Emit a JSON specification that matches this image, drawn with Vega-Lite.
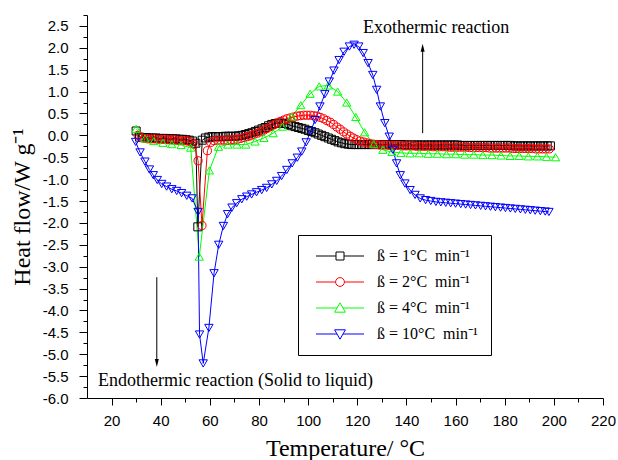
{
  "$schema": "https://vega.github.io/schema/vega-lite/v6.json",
  "width": 516,
  "height": 383,
  "autosize": {"type": "none"},
  "padding": {"left": 87, "top": 15, "right": 15, "bottom": 62},
  "background": "white",
  "config": {
    "view": {"stroke": null},
    "axis": {
      "domainColor": "black", "domainWidth": 1, "tickColor": "black", "tickWidth": 1,
      "labelFont": "Liberation Sans", "labelFontSize": 15, "labelColor": "black",
      "titleFont": "Liberation Serif", "titleFontSize": 24, "titleFontWeight": "normal", "titleColor": "black",
      "grid": false, "labelOverlap": false, "labelFlush": false, "labelBound": false
    },
    "legend": {"symbolOpacity": 1}
  },
  "resolve": {"scale": {"shape": "independent", "color": "independent"}},
  "datasets": {
    "curves": [
      {"s":"1","x":30.0,"y":0.10},{"s":"1","x":31.4,"y":-0.04},{"s":"1","x":32.7,"y":-0.05},{"s":"1","x":34.1,"y":-0.05},{"s":"1","x":35.4,"y":-0.06},{"s":"1","x":36.8,"y":-0.06},{"s":"1","x":38.1,"y":-0.06},{"s":"1","x":39.5,"y":-0.07},{"s":"1","x":40.8,"y":-0.07},{"s":"1","x":42.2,"y":-0.07},{"s":"1","x":43.5,"y":-0.08},{"s":"1","x":44.9,"y":-0.08},{"s":"1","x":46.2,"y":-0.08},{"s":"1","x":47.6,"y":-0.09},{"s":"1","x":48.9,"y":-0.09},{"s":"1","x":50.3,"y":-0.10},{"s":"1","x":51.6,"y":-0.11},{"s":"1","x":53.0,"y":-0.13},{"s":"1","x":54.3,"y":-0.18},{"s":"1","x":55.1,"y":-2.09},{"s":"1","x":56.9,"y":-0.11},{"s":"1","x":58.2,"y":-0.06},{"s":"1","x":59.6,"y":-0.04},{"s":"1","x":60.9,"y":-0.03},{"s":"1","x":62.3,"y":-0.03},{"s":"1","x":63.6,"y":-0.03},{"s":"1","x":65.0,"y":-0.03},{"s":"1","x":66.3,"y":-0.02},{"s":"1","x":67.7,"y":-0.02},{"s":"1","x":69.0,"y":-0.02},{"s":"1","x":70.4,"y":-0.02},{"s":"1","x":71.7,"y":-0.01},{"s":"1","x":73.1,"y":0.00},{"s":"1","x":74.4,"y":0.02},{"s":"1","x":75.8,"y":0.04},{"s":"1","x":77.1,"y":0.06},{"s":"1","x":78.5,"y":0.09},{"s":"1","x":79.8,"y":0.12},{"s":"1","x":81.2,"y":0.15},{"s":"1","x":82.5,"y":0.18},{"s":"1","x":83.9,"y":0.22},{"s":"1","x":85.2,"y":0.25},{"s":"1","x":86.6,"y":0.27},{"s":"1","x":87.9,"y":0.28},{"s":"1","x":89.3,"y":0.28},{"s":"1","x":90.6,"y":0.27},{"s":"1","x":92.0,"y":0.25},{"s":"1","x":93.3,"y":0.22},{"s":"1","x":94.7,"y":0.20},{"s":"1","x":96.0,"y":0.18},{"s":"1","x":97.4,"y":0.16},{"s":"1","x":98.7,"y":0.14},{"s":"1","x":100.1,"y":0.11},{"s":"1","x":101.4,"y":0.09},{"s":"1","x":102.8,"y":0.06},{"s":"1","x":104.1,"y":0.03},{"s":"1","x":105.5,"y":0.00},{"s":"1","x":106.8,"y":-0.03},{"s":"1","x":108.2,"y":-0.06},{"s":"1","x":109.5,"y":-0.09},{"s":"1","x":110.9,"y":-0.12},{"s":"1","x":112.2,"y":-0.15},{"s":"1","x":113.6,"y":-0.17},{"s":"1","x":114.9,"y":-0.19},{"s":"1","x":116.3,"y":-0.20},{"s":"1","x":117.6,"y":-0.21},{"s":"1","x":119.0,"y":-0.21},{"s":"1","x":120.3,"y":-0.21},{"s":"1","x":121.7,"y":-0.21},{"s":"1","x":123.0,"y":-0.21},{"s":"1","x":124.4,"y":-0.21},{"s":"1","x":125.7,"y":-0.21},{"s":"1","x":127.1,"y":-0.21},{"s":"1","x":128.4,"y":-0.21},{"s":"1","x":129.8,"y":-0.21},{"s":"1","x":131.1,"y":-0.21},{"s":"1","x":132.5,"y":-0.21},{"s":"1","x":133.8,"y":-0.21},{"s":"1","x":135.2,"y":-0.21},{"s":"1","x":136.5,"y":-0.21},{"s":"1","x":137.9,"y":-0.21},{"s":"1","x":139.2,"y":-0.22},{"s":"1","x":140.6,"y":-0.22},{"s":"1","x":141.9,"y":-0.22},{"s":"1","x":143.3,"y":-0.22},{"s":"1","x":144.6,"y":-0.22},{"s":"1","x":146.0,"y":-0.22},{"s":"1","x":147.3,"y":-0.22},{"s":"1","x":148.7,"y":-0.22},{"s":"1","x":150.0,"y":-0.22},{"s":"1","x":151.4,"y":-0.22},{"s":"1","x":152.7,"y":-0.22},{"s":"1","x":154.1,"y":-0.22},{"s":"1","x":155.4,"y":-0.22},{"s":"1","x":156.8,"y":-0.22},{"s":"1","x":158.1,"y":-0.22},{"s":"1","x":159.5,"y":-0.22},{"s":"1","x":160.8,"y":-0.22},{"s":"1","x":162.2,"y":-0.23},{"s":"1","x":163.5,"y":-0.23},{"s":"1","x":164.9,"y":-0.23},{"s":"1","x":166.2,"y":-0.23},{"s":"1","x":167.6,"y":-0.23},{"s":"1","x":168.9,"y":-0.23},{"s":"1","x":170.3,"y":-0.23},{"s":"1","x":171.6,"y":-0.23},{"s":"1","x":173.0,"y":-0.23},{"s":"1","x":174.3,"y":-0.23},{"s":"1","x":175.7,"y":-0.23},{"s":"1","x":177.0,"y":-0.23},{"s":"1","x":178.4,"y":-0.23},{"s":"1","x":179.7,"y":-0.23},{"s":"1","x":181.1,"y":-0.23},{"s":"1","x":182.4,"y":-0.23},{"s":"1","x":183.8,"y":-0.24},{"s":"1","x":185.1,"y":-0.24},{"s":"1","x":186.5,"y":-0.24},{"s":"1","x":187.8,"y":-0.24},{"s":"1","x":189.2,"y":-0.24},{"s":"1","x":190.5,"y":-0.24},{"s":"1","x":191.9,"y":-0.24},{"s":"1","x":193.2,"y":-0.24},{"s":"1","x":194.6,"y":-0.24},{"s":"1","x":195.9,"y":-0.24},{"s":"1","x":197.3,"y":-0.24},{"s":"1","x":198.6,"y":-0.24},
      {"s":"2","x":30.8,"y":0.00},{"s":"2","x":32.1,"y":-0.05},{"s":"2","x":33.5,"y":-0.07},{"s":"2","x":34.8,"y":-0.08},{"s":"2","x":36.2,"y":-0.08},{"s":"2","x":37.5,"y":-0.08},{"s":"2","x":38.9,"y":-0.09},{"s":"2","x":40.2,"y":-0.09},{"s":"2","x":41.6,"y":-0.09},{"s":"2","x":42.9,"y":-0.10},{"s":"2","x":44.3,"y":-0.10},{"s":"2","x":45.6,"y":-0.10},{"s":"2","x":47.0,"y":-0.11},{"s":"2","x":48.3,"y":-0.11},{"s":"2","x":49.7,"y":-0.12},{"s":"2","x":51.0,"y":-0.13},{"s":"2","x":52.4,"y":-0.15},{"s":"2","x":53.7,"y":-0.21},{"s":"2","x":55.2,"y":-0.58},{"s":"2","x":56.8,"y":-2.06},{"s":"2","x":59.0,"y":-0.35},{"s":"2","x":60.4,"y":-0.16},{"s":"2","x":61.7,"y":-0.12},{"s":"2","x":63.1,"y":-0.11},{"s":"2","x":64.4,"y":-0.11},{"s":"2","x":65.8,"y":-0.11},{"s":"2","x":67.1,"y":-0.11},{"s":"2","x":68.5,"y":-0.10},{"s":"2","x":69.8,"y":-0.10},{"s":"2","x":71.2,"y":-0.09},{"s":"2","x":72.5,"y":-0.07},{"s":"2","x":73.9,"y":-0.05},{"s":"2","x":75.2,"y":-0.03},{"s":"2","x":76.6,"y":-0.01},{"s":"2","x":77.9,"y":0.02},{"s":"2","x":79.3,"y":0.05},{"s":"2","x":80.6,"y":0.08},{"s":"2","x":82.0,"y":0.12},{"s":"2","x":83.3,"y":0.16},{"s":"2","x":84.7,"y":0.20},{"s":"2","x":86.0,"y":0.24},{"s":"2","x":87.4,"y":0.28},{"s":"2","x":88.7,"y":0.32},{"s":"2","x":90.1,"y":0.35},{"s":"2","x":91.4,"y":0.38},{"s":"2","x":92.8,"y":0.40},{"s":"2","x":94.1,"y":0.42},{"s":"2","x":95.5,"y":0.44},{"s":"2","x":96.8,"y":0.45},{"s":"2","x":98.2,"y":0.46},{"s":"2","x":99.5,"y":0.46},{"s":"2","x":100.9,"y":0.46},{"s":"2","x":102.2,"y":0.45},{"s":"2","x":103.6,"y":0.44},{"s":"2","x":104.9,"y":0.41},{"s":"2","x":106.3,"y":0.38},{"s":"2","x":107.6,"y":0.34},{"s":"2","x":109.0,"y":0.30},{"s":"2","x":110.3,"y":0.25},{"s":"2","x":111.7,"y":0.19},{"s":"2","x":113.0,"y":0.14},{"s":"2","x":114.4,"y":0.08},{"s":"2","x":115.7,"y":0.03},{"s":"2","x":117.1,"y":-0.02},{"s":"2","x":118.4,"y":-0.06},{"s":"2","x":119.8,"y":-0.10},{"s":"2","x":121.1,"y":-0.13},{"s":"2","x":122.5,"y":-0.15},{"s":"2","x":123.8,"y":-0.17},{"s":"2","x":125.2,"y":-0.19},{"s":"2","x":126.5,"y":-0.20},{"s":"2","x":127.9,"y":-0.21},{"s":"2","x":129.2,"y":-0.22},{"s":"2","x":130.6,"y":-0.22},{"s":"2","x":131.9,"y":-0.22},{"s":"2","x":133.3,"y":-0.23},{"s":"2","x":134.6,"y":-0.23},{"s":"2","x":136.0,"y":-0.23},{"s":"2","x":137.3,"y":-0.23},{"s":"2","x":138.7,"y":-0.24},{"s":"2","x":140.0,"y":-0.24},{"s":"2","x":141.4,"y":-0.24},{"s":"2","x":142.7,"y":-0.24},{"s":"2","x":144.1,"y":-0.25},{"s":"2","x":145.4,"y":-0.25},{"s":"2","x":146.8,"y":-0.25},{"s":"2","x":148.1,"y":-0.25},{"s":"2","x":149.5,"y":-0.25},{"s":"2","x":150.8,"y":-0.26},{"s":"2","x":152.2,"y":-0.26},{"s":"2","x":153.5,"y":-0.26},{"s":"2","x":154.9,"y":-0.26},{"s":"2","x":156.2,"y":-0.26},{"s":"2","x":157.6,"y":-0.27},{"s":"2","x":158.9,"y":-0.27},{"s":"2","x":160.3,"y":-0.27},{"s":"2","x":161.6,"y":-0.27},{"s":"2","x":163.0,"y":-0.27},{"s":"2","x":164.3,"y":-0.27},{"s":"2","x":165.7,"y":-0.28},{"s":"2","x":167.0,"y":-0.28},{"s":"2","x":168.4,"y":-0.28},{"s":"2","x":169.7,"y":-0.28},{"s":"2","x":171.1,"y":-0.28},{"s":"2","x":172.4,"y":-0.28},{"s":"2","x":173.8,"y":-0.29},{"s":"2","x":175.1,"y":-0.29},{"s":"2","x":176.5,"y":-0.29},{"s":"2","x":177.8,"y":-0.29},{"s":"2","x":179.2,"y":-0.29},{"s":"2","x":180.5,"y":-0.29},{"s":"2","x":181.9,"y":-0.29},{"s":"2","x":183.2,"y":-0.30},{"s":"2","x":184.6,"y":-0.30},{"s":"2","x":185.9,"y":-0.30},{"s":"2","x":187.3,"y":-0.30},{"s":"2","x":188.6,"y":-0.30},{"s":"2","x":190.0,"y":-0.30},{"s":"2","x":191.3,"y":-0.30},{"s":"2","x":192.7,"y":-0.31},{"s":"2","x":194.0,"y":-0.31},{"s":"2","x":195.4,"y":-0.31},{"s":"2","x":196.7,"y":-0.31},{"s":"2","x":198.1,"y":-0.31},
      {"s":"4","x":30.0,"y":0.15},{"s":"4","x":33.6,"y":-0.07},{"s":"4","x":37.2,"y":-0.13},{"s":"4","x":40.9,"y":-0.17},{"s":"4","x":44.5,"y":-0.20},{"s":"4","x":48.3,"y":-0.22},{"s":"4","x":52.2,"y":-0.28},{"s":"4","x":55.7,"y":-2.77},{"s":"4","x":59.8,"y":-0.80},{"s":"4","x":63.5,"y":-0.26},{"s":"4","x":67.3,"y":-0.21},{"s":"4","x":71.0,"y":-0.21},{"s":"4","x":74.6,"y":-0.21},{"s":"4","x":78.4,"y":-0.14},{"s":"4","x":82.0,"y":-0.06},{"s":"4","x":85.8,"y":0.05},{"s":"4","x":89.6,"y":0.20},{"s":"4","x":93.3,"y":0.43},{"s":"4","x":97.0,"y":0.69},{"s":"4","x":100.8,"y":0.95},{"s":"4","x":104.5,"y":1.12},{"s":"4","x":108.2,"y":1.14},{"s":"4","x":112.0,"y":1.00},{"s":"4","x":115.7,"y":0.75},{"s":"4","x":119.4,"y":0.42},{"s":"4","x":123.0,"y":0.07},{"s":"4","x":126.7,"y":-0.20},{"s":"4","x":130.4,"y":-0.33},{"s":"4","x":134.1,"y":-0.38},{"s":"4","x":137.8,"y":-0.40},{"s":"4","x":141.5,"y":-0.41},{"s":"4","x":145.2,"y":-0.41},{"s":"4","x":148.9,"y":-0.42},{"s":"4","x":152.6,"y":-0.42},{"s":"4","x":156.3,"y":-0.43},{"s":"4","x":160.0,"y":-0.43},{"s":"4","x":163.7,"y":-0.44},{"s":"4","x":167.4,"y":-0.44},{"s":"4","x":171.1,"y":-0.45},{"s":"4","x":174.8,"y":-0.45},{"s":"4","x":178.5,"y":-0.46},{"s":"4","x":182.2,"y":-0.47},{"s":"4","x":185.9,"y":-0.47},{"s":"4","x":189.6,"y":-0.48},{"s":"4","x":193.3,"y":-0.48},{"s":"4","x":197.0,"y":-0.49},{"s":"4","x":200.7,"y":-0.50},
      {"s":"10","x":29.8,"y":-0.15},{"s":"10","x":31.6,"y":-0.39},{"s":"10","x":33.6,"y":-0.60},{"s":"10","x":35.4,"y":-0.78},{"s":"10","x":37.0,"y":-0.91},{"s":"10","x":38.6,"y":-1.02},{"s":"10","x":40.4,"y":-1.11},{"s":"10","x":42.4,"y":-1.17},{"s":"10","x":44.5,"y":-1.23},{"s":"10","x":46.5,"y":-1.27},{"s":"10","x":48.5,"y":-1.32},{"s":"10","x":50.6,"y":-1.38},{"s":"10","x":52.8,"y":-1.44},{"s":"10","x":55.2,"y":-1.75},{"s":"10","x":55.8,"y":-4.55},{"s":"10","x":57.3,"y":-5.21},{"s":"10","x":59.6,"y":-4.40},{"s":"10","x":61.7,"y":-3.15},{"s":"10","x":63.6,"y":-2.50},{"s":"10","x":65.5,"y":-2.07},{"s":"10","x":67.2,"y":-1.80},{"s":"10","x":69.0,"y":-1.65},{"s":"10","x":70.9,"y":-1.55},{"s":"10","x":73.0,"y":-1.46},{"s":"10","x":75.0,"y":-1.40},{"s":"10","x":77.0,"y":-1.35},{"s":"10","x":79.0,"y":-1.30},{"s":"10","x":81.1,"y":-1.25},{"s":"10","x":83.1,"y":-1.20},{"s":"10","x":85.2,"y":-1.12},{"s":"10","x":87.2,"y":-1.04},{"s":"10","x":89.2,"y":-0.93},{"s":"10","x":91.3,"y":-0.79},{"s":"10","x":93.5,"y":-0.64},{"s":"10","x":95.6,"y":-0.51},{"s":"10","x":97.4,"y":-0.37},{"s":"10","x":99.2,"y":-0.16},{"s":"10","x":101.0,"y":0.09},{"s":"10","x":102.8,"y":0.35},{"s":"10","x":104.8,"y":0.66},{"s":"10","x":106.8,"y":0.94},{"s":"10","x":108.6,"y":1.23},{"s":"10","x":110.5,"y":1.48},{"s":"10","x":112.6,"y":1.72},{"s":"10","x":114.6,"y":1.91},{"s":"10","x":116.8,"y":2.03},{"s":"10","x":118.7,"y":2.07},{"s":"10","x":120.6,"y":2.03},{"s":"10","x":122.4,"y":1.88},{"s":"10","x":124.4,"y":1.65},{"s":"10","x":126.3,"y":1.38},{"s":"10","x":127.9,"y":1.04},{"s":"10","x":129.4,"y":0.66},{"s":"10","x":131.2,"y":0.28},{"s":"10","x":133.0,"y":-0.03},{"s":"10","x":134.5,"y":-0.33},{"s":"10","x":136.0,"y":-0.64},{"s":"10","x":137.5,"y":-0.91},{"s":"10","x":139.4,"y":-1.10},{"s":"10","x":141.5,"y":-1.25},{"s":"10","x":143.5,"y":-1.36},{"s":"10","x":145.6,"y":-1.44},{"s":"10","x":147.8,"y":-1.48},{"s":"10","x":149.9,"y":-1.50},{"s":"10","x":152.0,"y":-1.52},{"s":"10","x":154.0,"y":-1.53},{"s":"10","x":156.0,"y":-1.54},{"s":"10","x":158.0,"y":-1.55},{"s":"10","x":160.0,"y":-1.56},{"s":"10","x":162.1,"y":-1.57},{"s":"10","x":164.1,"y":-1.58},{"s":"10","x":166.1,"y":-1.59},{"s":"10","x":168.1,"y":-1.60},{"s":"10","x":170.2,"y":-1.61},{"s":"10","x":172.2,"y":-1.62},{"s":"10","x":174.2,"y":-1.63},{"s":"10","x":176.2,"y":-1.64},{"s":"10","x":178.3,"y":-1.65},{"s":"10","x":180.3,"y":-1.66},{"s":"10","x":182.3,"y":-1.67},{"s":"10","x":184.3,"y":-1.68},{"s":"10","x":186.4,"y":-1.69},{"s":"10","x":188.4,"y":-1.70},{"s":"10","x":190.4,"y":-1.71},{"s":"10","x":192.4,"y":-1.72},{"s":"10","x":194.5,"y":-1.73},{"s":"10","x":196.5,"y":-1.74},{"s":"10","x":198.0,"y":-1.75}
    ],
    "arrows": [
      {"ax": 146.6, "ay": 0.05, "ay2": 2.0, "dir": "up"},
      {"ax": 38.4, "ay": -3.24, "ay2": -5.2, "dir": "down"}
    ],
    "notes": [
      {"tx": 122.3, "ty": 2.34, "t": "Exothermic reaction"},
      {"tx": 14.5, "ty": -5.73, "t": "Endothermic reaction (Solid to liquid)"}
    ]
  },
  "layer": [
    {
      "data": {"name": "curves"},
      "mark": {"type": "line", "strokeWidth": 1, "clip": true},
      "encoding": {
        "x": {"field": "x", "type": "quantitative", "scale": {"domain": [10, 220], "nice": false, "zero": false},
          "axis": {
            "title": "Temperature/ °C",
            "values": [20,30,40,50,60,70,80,90,100,110,120,130,140,150,160,170,180,190,200,210,220],
            "tickCount": 100,
            "labelExpr": "datum.value % 20 === 0 ? datum.label : ''",
            "labelOverlap": false,
            "labelFontSize": {"condition": {"test": "datum.value % 20 === 0", "value": 15}, "value": 0},
            "tickSize": {"condition": {"test": "datum.value % 20 === 0", "value": 7}, "value": 4},
            "labelPadding": 8,
            "titleBaseline": "alphabetic", "titleY": 57
          }},
        "y": {"field": "y", "type": "quantitative", "scale": {"domain": [-6, 2.75], "nice": false, "zero": false},
          "axis": {
            "title": "Heat flow/W g⁻¹",
            "values": [-6,-5.75,-5.5,-5.25,-5,-4.75,-4.5,-4.25,-4,-3.75,-3.5,-3.25,-3,-2.75,-2.5,-2.25,-2,-1.75,-1.5,-1.25,-1,-0.75,-0.5,-0.25,0,0.25,0.5,0.75,1,1.25,1.5,1.75,2,2.25,2.5,2.75],
            "tickCount": 100,
            "labelExpr": "abs(datum.value % 0.5) < 0.001 ? replace(format(datum.value, '.1f'), '\u2212', '-') : ''",
            "labelOverlap": false,
            "labelFontSize": {"condition": {"test": "abs(datum.value % 0.5) < 0.001", "value": 15}, "value": 0},
            "tickSize": {"condition": {"test": "abs(datum.value % 0.5) < 0.001", "value": 8}, "value": 4},
            "labelPadding": 11,
            "titleBaseline": "alphabetic", "titleX": -58
          }},
        "color": {"field": "s", "type": "nominal", "legend": null,
          "scale": {"domain": ["1", "2", "4", "10"], "range": ["#000000", "#FF0000", "#00FF00", "#0000FF"]}}
      }
    },
    {
      "data": {"name": "curves"},
      "mark": {"type": "point", "filled": false, "strokeWidth": 1, "opacity": 1, "clip": true},
      "encoding": {
        "x": {"field": "x", "type": "quantitative"},
        "y": {"field": "y", "type": "quantitative"},
        "color": {"field": "s", "type": "nominal", "legend": null,
          "scale": {"domain": ["1", "2", "4", "10"], "range": ["#000000", "#FF0000", "#00FF00", "#0000FF"]}},
        "shape": {"field": "s", "type": "nominal", "legend": null,
          "scale": {"domain": ["1", "2", "4", "10"], "range": ["square", "circle", "triangle-up", "triangle-down"]}},
        "size": {"field": "s", "type": "nominal", "legend": null,
          "scale": {"domain": ["1", "2", "4", "10"], "range": [64, 70, 110, 110]}}
      }
    },
    {
      "data": {"name": "curves"},
      "mark": {"type": "point", "filled": false, "strokeWidth": 1, "opacity": 0},
      "encoding": {
        "x": {"field": "x", "type": "quantitative"},
        "y": {"field": "y", "type": "quantitative"},
        "color": {"field": "s", "type": "nominal",
          "scale": {"domain": ["1", "2", "4", "10"], "range": ["#000000", "#FF0000", "#00FF00", "#0000FF"]},
          "legend": {
            "orient": "none", "legendX": 211, "legendY": 220, "title": null,
            "strokeColor": "black", "fillColor": "white", "padding": 13, "cornerRadius": 0,
            "symbolSize": 64, "symbolStrokeWidth": 1, "symbolOffset": 21, "labelOffset": 29, "symbolOpacity": 1,
            "labelFont": "Liberation Serif", "labelFontSize": 16, "labelColor": "black", "rowPadding": 10,
            "labelExpr": "'ß = ' + datum.label + '°C\u00a0\u00a0min⁻¹'"
          }},
        "shape": {"field": "s", "type": "nominal",
          "scale": {"domain": ["1", "2", "4", "10"], "range": [
            "M-6,0H-1M1,0H6M-1,-1H1V1H-1Z",
            "M-6,0H-1.1M1.1,0H6M-1.1,0A1.1,1.1,0,1,0,1.1,0A1.1,1.1,0,1,0,-1.1,0",
            "M-6,0H-0.75M0.75,0H6M0,-1.3L1.35,1.05L-1.35,1.05Z",
            "M-6,0H-0.75M0.75,0H6M0,1.3L1.35,-1.05L-1.35,-1.05Z"
          ]},
          "legend": {
            "orient": "none", "legendX": 211, "legendY": 220, "title": null,
            "strokeColor": "black", "fillColor": "white", "padding": 13, "cornerRadius": 0,
            "symbolSize": 64, "symbolStrokeWidth": 1, "symbolOffset": 21, "labelOffset": 29, "symbolOpacity": 1,
            "labelFont": "Liberation Serif", "labelFontSize": 16, "labelColor": "black", "rowPadding": 10,
            "labelExpr": "'ß = ' + datum.label + '°C\u00a0\u00a0min⁻¹'"
          }}
      }
    },
    {
      "data": {"name": "arrows"},
      "mark": {"type": "rule", "color": "black", "strokeWidth": 1},
      "encoding": {
        "x": {"field": "ax", "type": "quantitative"},
        "y": {"field": "ay", "type": "quantitative"},
        "y2": {"field": "ay2"}
      }
    },
    {
      "data": {"name": "arrows"},
      "transform": [{"filter": "datum.dir === 'up'"}],
      "mark": {"type": "point", "shape": "M0,-1L-0.5,1L0.5,1Z", "filled": true, "color": "black", "size": 64, "opacity": 1},
      "encoding": {
        "x": {"field": "ax", "type": "quantitative"},
        "y": {"field": "ay2", "type": "quantitative"}
      }
    },
    {
      "data": {"name": "arrows"},
      "transform": [{"filter": "datum.dir === 'down'"}],
      "mark": {"type": "point", "shape": "M0,1L-0.5,-1L0.5,-1Z", "filled": true, "color": "black", "size": 64, "opacity": 1},
      "encoding": {
        "x": {"field": "ax", "type": "quantitative"},
        "y": {"field": "ay2", "type": "quantitative"}
      }
    },
    {
      "data": {"name": "notes"},
      "mark": {"type": "text", "align": "left", "baseline": "alphabetic", "font": "Liberation Serif", "fontSize": 18, "color": "black"},
      "encoding": {
        "x": {"field": "tx", "type": "quantitative"},
        "y": {"field": "ty", "type": "quantitative"},
        "text": {"field": "t"}
      }
    }
  ]
}
